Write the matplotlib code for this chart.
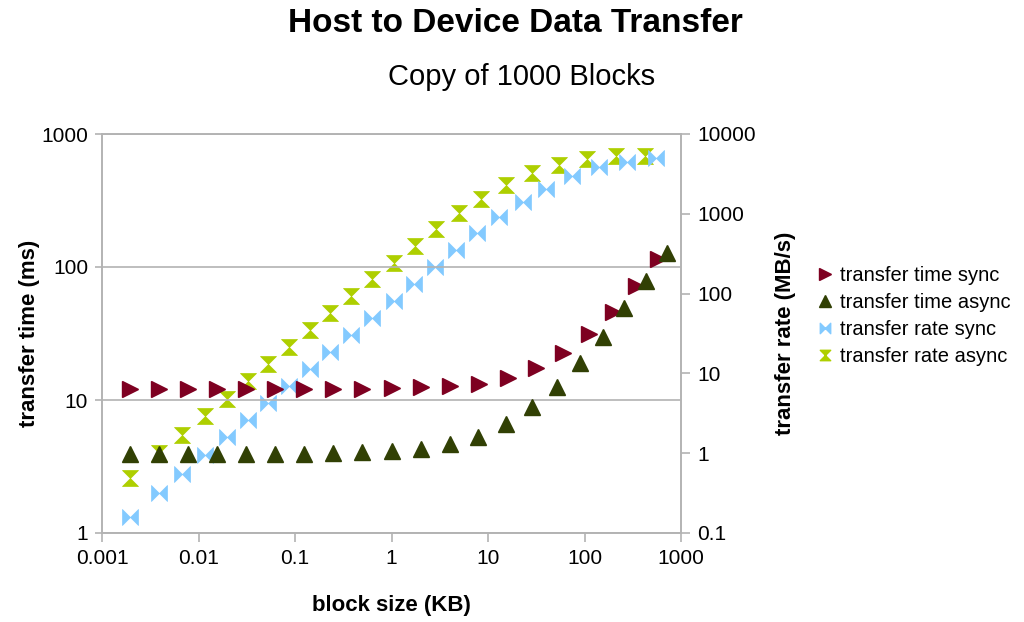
import matplotlib
matplotlib.use("Agg")
import matplotlib.pyplot as plt
from matplotlib.path import Path
from matplotlib.lines import Line2D
from matplotlib.ticker import FixedLocator, FixedFormatter, NullLocator

plt.rcParams['font.family'] = ['Liberation Sans', 'DejaVu Sans']

# block size (KB) and transfer time (ms)
size_time_sync = [0.00195, 0.0039, 0.0078, 0.0156, 0.0313, 0.0625, 0.125, 0.25, 0.5, 1.0,
                  2.0, 4.0, 8.0, 16.0, 31.4, 60.2, 112, 199, 343, 575]
time_sync = [12.2, 12.2, 12.2, 12.2, 12.2, 12.2, 12.2, 12.2, 12.2, 12.3,
             12.6, 12.8, 13.3, 14.7, 17.5, 22.4, 31.2, 46.2, 72.4, 114.5]

size_time_async = [0.00195, 0.0039, 0.0078, 0.0156, 0.0313, 0.0625, 0.125, 0.25, 0.5, 1.0,
                   2.0, 4.0, 7.9, 15.3, 28.7, 51.4, 89.8, 154.5, 259, 432, 724]
time_async = [3.94, 3.94, 3.94, 3.94, 3.94, 3.94, 3.96, 4.00, 4.05, 4.12,
              4.27, 4.64, 5.28, 6.55, 8.80, 12.6, 19.1, 29.9, 49.5, 78.6, 128.3]

# block size (KB) and transfer rate (MB/s)
size_rate_sync = [0.00194, 0.00391, 0.00682, 0.01174, 0.01953, 0.03227, 0.0529, 0.0874,
                  0.1435, 0.2331, 0.3825, 0.632, 1.051, 1.708, 2.80, 4.63, 7.74, 13.04,
                  22.8, 40.3, 73.7, 141.5, 274.3, 548.9]
rate_sync = [0.159, 0.313, 0.547, 0.947, 1.579, 2.60, 4.22, 7.05, 11.36, 18.72, 30.3, 50.0,
             80.9, 132.3, 216.3, 353.4, 569.2, 903.8, 1386, 2059, 2938, 3832, 4428, 4972]

size_rate_async = [0.00194, 0.00391, 0.00682, 0.01174, 0.01953, 0.03227, 0.0529, 0.0874,
                   0.1435, 0.2331, 0.3825, 0.632, 1.051, 1.738, 2.92, 4.98, 8.56, 15.30,
                   28.5, 54.4, 107.4, 212.4, 424.9]
rate_async = [0.483, 1.02, 1.69, 2.92, 4.81, 8.03, 13.0, 21.4, 35.0, 56.8, 93.6, 151.6,
              244.9, 396.7, 642.7, 1015, 1543, 2291, 3222, 4036, 4829, 5234, 5341]

x_ticks = [0.001, 0.01, 0.1, 1, 10, 100, 1000]
x_labels = ["0.001", "0.01", "0.1", "1", "10", "100", "1000"]
time_ticks = [1, 10, 100, 1000]
time_labels = ["1", "10", "100", "1000"]
rate_ticks = [0.1, 1, 10, 100, 1000, 10000]
rate_labels = ["0.1", "1", "10", "100", "1000", "10000"]

RED = "#7E0021"
DKGREEN = "#314004"
LTBLUE = "#83CAFF"
LIME = "#AECF00"
GRID = "#B3B3B3"

# bowtie and hourglass markers
bowtie = Path([(-1, -1), (-1, 1), (1, -1), (1, 1), (-1, -1)],
              [Path.MOVETO, Path.LINETO, Path.LINETO, Path.LINETO, Path.CLOSEPOLY])
hourglass = Path([(-1, -1), (1, -1), (-1, 1), (1, 1), (-1, -1)],
                 [Path.MOVETO, Path.LINETO, Path.LINETO, Path.LINETO, Path.CLOSEPOLY])

fig = plt.figure(figsize=(10.24, 6.22), dpi=100)
ax = fig.add_axes([102 / 1024, 1 - 533 / 622, (681 - 102) / 1024, (533 - 134) / 622])
ax2 = ax.twinx()

ax.set_xscale("log")
ax.set_yscale("log")
ax2.set_yscale("log")
ax.set_xlim(0.001, 1000)
ax.set_ylim(1, 1000)
ax2.set_ylim(0.1, 10000)

ms = 11.5
ax.plot(size_time_sync, time_sync, ls="none", marker=">", ms=ms, color=RED, mec=RED)
ax.plot(size_time_async, time_async, ls="none", marker="^", ms=ms, color=DKGREEN, mec=DKGREEN)
ax2.plot(size_rate_async, rate_async, ls="none", marker=hourglass, ms=ms, color=LIME, mec=LIME, mew=0.5)
ax2.plot(size_rate_sync, rate_sync, ls="none", marker=bowtie, ms=ms, color=LTBLUE, mec=LTBLUE, mew=0.5)

# time series sit above the rate series
ax.set_zorder(ax2.get_zorder() + 1)
ax.patch.set_visible(False)

for a in (ax, ax2):
    for s in a.spines.values():
        s.set_color(GRID)
        s.set_linewidth(1.2)
    a.tick_params(which="both", color=GRID, width=1.2, labelsize=15, length=6.5, pad=5)
    a.yaxis.set_minor_locator(NullLocator())

ax.xaxis.set_major_locator(FixedLocator(x_ticks))
ax.xaxis.set_major_formatter(FixedFormatter(x_labels))
ax.xaxis.set_minor_locator(NullLocator())
ax.tick_params(axis="y", length=5)
ax.yaxis.set_major_locator(FixedLocator(time_ticks))
ax.yaxis.set_major_formatter(FixedFormatter(time_labels))
ax2.yaxis.set_major_locator(FixedLocator(rate_ticks))
ax2.yaxis.set_major_formatter(FixedFormatter(rate_labels))

ax.grid(axis="y", which="major", color=GRID, linewidth=1.2)

ax.set_xlabel("block size (KB)", fontsize=16, fontweight="bold", va="center")
ax.set_ylabel("transfer time (ms)", fontsize=16, fontweight="bold", va="center")
ax2.set_ylabel("transfer rate (MB/s)", fontsize=16, fontweight="bold", va="center")
ax.xaxis.set_label_coords(0.5, (533 - 605) / 399)
ax.yaxis.set_label_coords((30 - 102) / 579, 0.5)
ax2.yaxis.set_label_coords((786 - 102) / 579, 0.5)

fig.text(0.503, 0.962, "Host to Device Data Transfer", ha="center", va="center",
         fontsize=24, fontweight="bold")
fig.text(0.509, 0.877, "Copy of 1000 Blocks", ha="center", va="center", fontsize=21)

handles = [
    Line2D([], [], ls="none", marker=">", ms=8, color=RED),
    Line2D([], [], ls="none", marker="^", ms=8, color=DKGREEN),
    Line2D([], [], ls="none", marker=bowtie, ms=7.5, color=LTBLUE),
    Line2D([], [], ls="none", marker=hourglass, ms=7.5, color=LIME),
]
labels = ["transfer time sync", "transfer time async", "transfer rate sync", "transfer rate async"]
fig.legend(handles, labels, loc="center left", bbox_to_anchor=(0.788, 0.492), frameon=False,
           fontsize=14.5, handlelength=0.8, handletextpad=0.35, labelspacing=0.4, borderpad=0)

fig.savefig("out.png", dpi=100)
